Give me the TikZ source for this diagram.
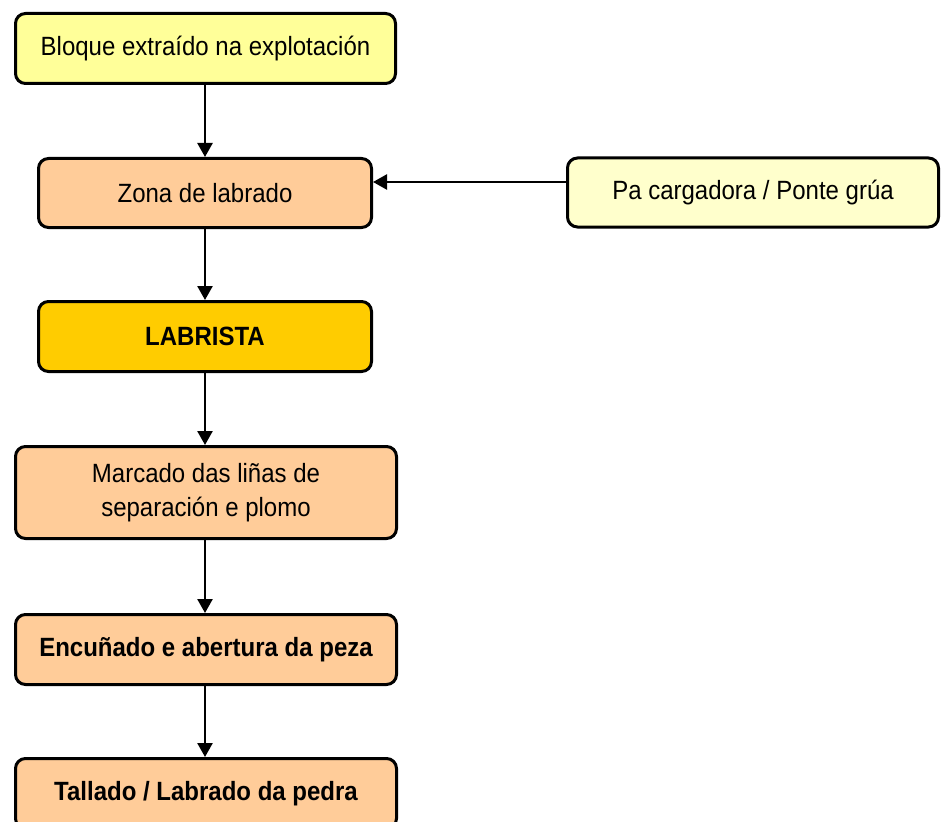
\documentclass[tikz,border=0pt]{standalone}
\usepackage{graphicx}
\usepackage{fontspec}
\setmainfont{Liberation Sans}
\usetikzlibrary{arrows.meta}
\definecolor{paleyel}{HTML}{FFFF99}
\definecolor{paleyel2}{HTML}{FFFFCC}
\definecolor{peach}{HTML}{FFCC99}
\definecolor{gold}{HTML}{FFCC00}
\newcommand{\tallt}[1]{\scalebox{1}[1.1]{#1}}
\tikzset{
  box/.style={draw=black, line width=3pt, rounded corners=10pt, align=center,
    font=\fontsize{24}{31}\selectfont, inner sep=0pt},
  boldbox/.style={box, font=\fontsize{24}{31}\selectfont\bfseries},
  arr/.style={line width=2.5pt, -{Triangle[length=14pt,width=15pt]}}
}
\begin{document}
\begin{tikzpicture}[x=1pt,y=-1pt]
\useasboundingbox (0,0) rectangle (941,821);
\node[box, fill=paleyel, minimum width=380pt, minimum height=70pt] (bloque) at (205.5,48.5) {\tallt{Bloque extraído na explotación}};
\node[box, fill=peach, minimum width=333pt, minimum height=69pt] (zona) at (205,193) {\tallt{Zona de labrado}};
\node[box, fill=paleyel2, minimum width=371pt, minimum height=69pt] (pa) at (753,192.5) {\tallt{Pa cargadora / Ponte grúa}};
\node[boldbox, fill=gold, minimum width=333pt, minimum height=70pt] (lab) at (205,336.5) {\tallt{LABRISTA}};
\node[box, fill=peach, minimum width=381pt, minimum height=92pt] (marc) at (206,492.5) {\raisebox{-8pt}{\tallt{\begin{tabular}{@{}c@{}}Marcado das liñas de\\separación e plomo\end{tabular}}}};
\node[boldbox, fill=peach, minimum width=381pt, minimum height=70pt] (enc) at (206,649.5) {\tallt{Encuñado e abertura da peza}};
\node[boldbox, fill=peach, minimum width=381pt, minimum height=70pt] (tal) at (206,793.5) {\tallt{Tallado / Labrado da pedra}};
\draw[arr] (bloque.south -| 205,0) -- (zona.north -| 205,0);
\draw[arr] (zona.south) -- (lab.north);
\draw[arr] (lab.south) -- (marc.north -| 205,0);
\draw[arr] (marc.south -| 205,0) -- (enc.north -| 205,0);
\draw[arr] (enc.south -| 205,0) -- (tal.north -| 205,0);
\draw[arr] (pa.west |- 0,182) -- (zona.east |- 0,182);
\end{tikzpicture}
\end{document}
